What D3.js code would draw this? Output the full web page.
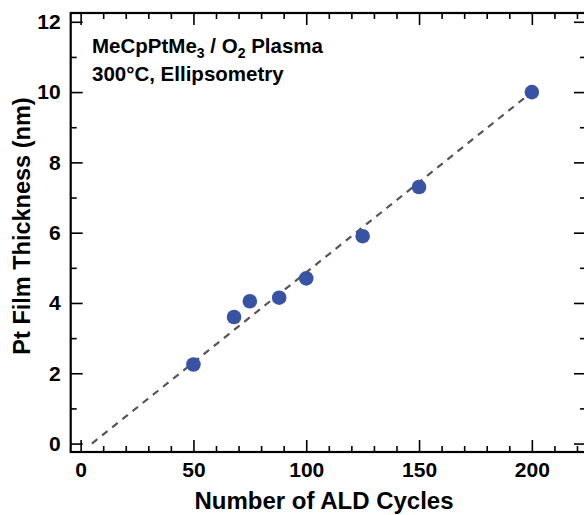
<!DOCTYPE html>
<html>
<head>
<meta charset="utf-8">
<script src="https://cdn.jsdelivr.net/npm/d3@7"></script>
<style>
  body { margin: 0; background: #fff; }
  svg { display: block; font-family: "Liberation Sans", Arial, sans-serif; font-weight: bold; }
</style>
</head>
<body>
<div id="plot"></div>
<script>
// data
const cycles = [50, 68, 75, 88, 100, 125, 150, 200];
const thickness = [2.25, 3.6, 4.05, 4.15, 4.7, 5.9, 7.3, 10.0];

// dashed linear fit, end points
const fitCycles = [5, 200];
const fitThickness = [0, 10.0];

// tick labels
const xTickLabels = [0, 50, 100, 150, 200];
const yTickLabels = [0, 2, 4, 6, 8, 10, 12];

const svg_width = 584;
const svg_height = 515;
const plot_left = 70.7, plot_right = 586, plot_top = 13, plot_bottom = 452;
const dot_color = "#3953a4";

const svg = d3.select("div#plot")
  .append("svg")
  .attr("width", svg_width)
  .attr("height", svg_height);

const x = d3.scaleLinear().domain([-4.4, 224]).range([plot_left, plot_right]);
const y = d3.scaleLinear().domain([-0.24, 12.25]).range([plot_bottom, plot_top]);

const xMinor = d3.range(0, 221, 10).filter(v => xTickLabels.indexOf(v) < 0);
const yMinor = d3.range(0, 13, 1).filter(v => yTickLabels.indexOf(v) < 0);

// major / minor ticks on all four sides, pointing inward
function addAxis(axisFn, scale, pos, values, size, labels, padding) {
  const g = svg.append("g")
    .attr("transform", pos)
    .call(axisFn(scale)
      .tickValues(values)
      .tickSize(-size)
      .tickPadding(padding || 3)
      .tickFormat(labels ? d3.format("d") : ""));
  g.select(".domain").remove();
  g.selectAll(".tick line").attr("stroke", "#000").attr("stroke-width", 1.6);
  g.selectAll(".tick text")
    .attr("fill", "#000")
    .style("font-size", "21px")
    .style("font-weight", "bold");
  return g;
}

addAxis(d3.axisBottom, x, `translate(0,${plot_bottom})`, xTickLabels, 12, true, 10);
addAxis(d3.axisBottom, x, `translate(0,${plot_bottom})`, xMinor, 6, false);
addAxis(d3.axisTop, x, `translate(0,${plot_top})`, xTickLabels, 12, false);
addAxis(d3.axisTop, x, `translate(0,${plot_top})`, xMinor, 6, false);
addAxis(d3.axisLeft, y, `translate(${plot_left},0)`, yTickLabels, 12, true, 10);
addAxis(d3.axisLeft, y, `translate(${plot_left},0)`, yMinor, 6, false);
addAxis(d3.axisRight, y, `translate(${plot_right},0)`, yTickLabels, 12, false);
addAxis(d3.axisRight, y, `translate(${plot_right},0)`, yMinor, 6, false);

// frame
svg.append("rect")
  .attr("x", plot_left)
  .attr("y", plot_top)
  .attr("width", plot_right - plot_left)
  .attr("height", plot_bottom - plot_top)
  .attr("fill", "none")
  .attr("stroke", "#000")
  .attr("stroke-width", 2.2);

// fit line
svg.append("line")
  .attr("x1", x(fitCycles[0]))
  .attr("y1", y(fitThickness[0]))
  .attr("x2", x(fitCycles[1]))
  .attr("y2", y(fitThickness[1]))
  .attr("stroke", "#555")
  .attr("stroke-width", 2.2)
  .attr("stroke-dasharray", "7,6");

// points
svg.selectAll("circle.pt")
  .data(cycles)
  .enter()
  .append("circle")
  .attr("class", "pt")
  .attr("cx", d => x(d))
  .attr("cy", (d, i) => y(thickness[i]))
  .attr("r", 7.3)
  .attr("fill", dot_color);

// annotation
const note = svg.append("text")
  .attr("x", 92)
  .attr("y", 53)
  .attr("fill", "#000")
  .style("font-size", "20.5px");
note.append("tspan").text("MeCpPtMe");
note.append("tspan").attr("font-size", "14px").attr("dy", 5).text("3");
note.append("tspan").attr("dy", -5).text(" / O");
note.append("tspan").attr("font-size", "14px").attr("dy", 5).text("2");
note.append("tspan").attr("dy", -5).text(" Plasma");

svg.append("text")
  .attr("x", 92)
  .attr("y", 81)
  .attr("fill", "#000")
  .style("font-size", "20.5px")
  .text("300°C, Ellipsometry");

// axis titles
svg.append("text")
  .attr("x", 324)
  .attr("y", 509)
  .attr("text-anchor", "middle")
  .attr("fill", "#000")
  .style("font-size", "24px")
  .text("Number of ALD Cycles");

svg.append("text")
  .attr("transform", "rotate(-90)")
  .attr("x", -226)
  .attr("y", 30)
  .attr("text-anchor", "middle")
  .attr("fill", "#000")
  .style("font-size", "23.5px")
  .text("Pt Film Thickness (nm)");
</script>
</body>
</html>
